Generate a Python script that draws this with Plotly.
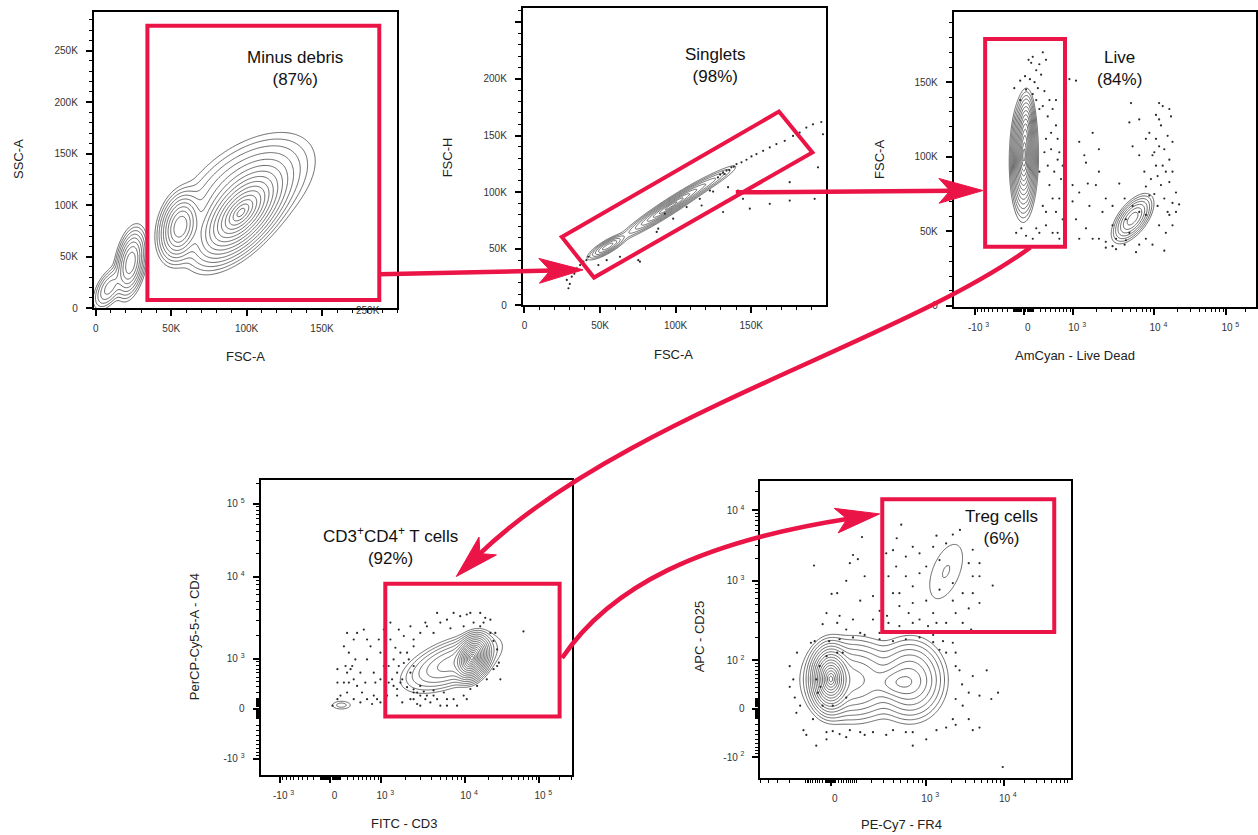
import numpy as np
import plotly.graph_objects as go

W, H = 1258, 835
RED = "#EB1446"
INK = "#2a2a2a"
FONT = "Liberation Sans, Arial, Helvetica, sans-serif"
EXP = 0.72  # exponent of the biexponential-like display transform


def biex(v, c):
    v = np.asarray(v, dtype=float)
    return np.sign(v) * np.abs(np.arcsinh(v / c)) ** EXP


# ======================= DATA =======================
# Panel 1  FSC-A (K) vs SSC-A (K); density populations
p1_cx = [96, 56, 100, 23, 9]
p1_cy = [92, 79, 115, 44, 20]
p1_sx = [11.5, 5.5, 18, 4, 4.5]
p1_sy = [18, 13, 22, 13, 9]
p1_rho = [0.6, 0.25, 0.5, 0.35, 0.55]
p1_amp = [1.0, 0.42, 0.10, 0.3, 0.07]
p1_gate = [34.2, 8.0, 188.0, 274.1]          # x0, y0, x1, y1 (K)

# Panel 2  FSC-A (K) vs FSC-H (K)
p2_cx = [55, 97, 122]
p2_cy = [52, 88, 108]
p2_sx = [4.74, 11.4, 7.75]
p2_sy = [4.1, 9.96, 6.57]
p2_rho = [0.83, 0.964, 0.936]
p2_amp = [0.5, 1.0, 0.1]
p2_gate_x = [24.7, 168.4, 190.5, 46.0]
p2_gate_y = [60.5, 171.1, 135.1, 24.6]
p2_dots = [(28.0, 22.5), (29.1, 15.2), (31.3, 25.4), (34.6, 32.7), (36.8, 35.6), (39.0, 38.6),
           (42.3, 43.0), (48.9, 35.6), (54.4, 40.0), (63.2, 43.0), (76.4, 38.6), (75.3, 40.0),
           (88.5, 67.8), (87.5, 64.9), (92.9, 81.0), (98.4, 76.6), (107.3, 86.8), (116.0, 94.1),
           (117.2, 88.2), (122.7, 101.4), (124.8, 100.5), (131.4, 117.5), (133.7, 119.0),
           (136.9, 121.9), (140.3, 124.8), (143.6, 126.3), (146.9, 128.6), (150.2, 131.5),
           (153.5, 133.6), (157.9, 136.5), (162.3, 139.5), (166.7, 142.4), (172.2, 145.3),
           (177.7, 149.6), (182.1, 152.6), (186.5, 157.0), (190.9, 159.9), (196.4, 161.9),
           (197.5, 151.1), (194.2, 121.9), (192.0, 94.1), (134.7, 104.4), (141.3, 101.4),
           (144.6, 94.1), (149.1, 85.4), (162.3, 89.7), (175.5, 108.8), (175.5, 92.6),
           (131.4, 82.5), (129.5, 115.5), (132.5, 116.0), (135.5, 119.5), (138.5, 122.5),
           (128.0, 113.0), (33.0, 28.0), (41.0, 40.0), (30.0, 19.0)]

# Panel 3  AmCyan (real units) vs FSC-A (K); x spreads in display units
p3_cx = [0, 10, 5360]
p3_cy = [99, 118, 58.5]
p3_sx = [0.07, 0.05, 0.12]
p3_sy = [13, 9, 6]
p3_rho = [0.05, 0.1, 0.6]
p3_amp = [1.0, 0.35, 0.22]
p3_gate = [-687, 39.6, 753, 178.9]
p3_dots = [(35, 165), (65, 163), (85, 167), (135, 158), (185, 162), (50, 152), (5, 154), (110, 150),
           (160, 146), (245, 170), (-95, 146), (-25, 151), (215, 155), (275, 144), (12, 145),
           (85, 142), (305, 165), (245, 134), (340, 127), (443, 132), (520, 121), (305, 112),
           (410, 105), (560, 98), (480, 90), (375, 81), (602, 72), (520, 63), (305, 54), (443, 49),
           (602, 45), (185, 49), (135, 52), (12, 47), (-15, 52), (245, 67), (340, 94), (275, 103),
           (560, 112), (185, 90), (645, 85), (690, 58), (880, 152), (1095, 151), (1210, 110),
           (1480, 96), (1790, 116), (2130, 105), (980, 81), (1210, 76), (1635, 67), (1480, 52),
           (1790, 45), (1210, 45), (2130, 90), (2570, 72), (2350, 63), (1960, 81), (1095, 58),
           (980, 70), (3090, 54), (2570, 43), (1560, 82), (1410, 101), (5130, 136), (11500, 136),
           (12800, 134), (15650, 132), (16450, 127), (8630, 116), (10480, 112), (11500, 107),
           (9460, 101), (12800, 94), (11000, 87), (14070, 90), (15650, 83), (9040, 85),
           (6460, 101), (5360, 107), (4900, 123), (7810, 80), (9970, 75), (13430, 72), (17240, 69),
           (21160, 68), (15650, 61), (11500, 54), (14070, 49), (9460, 41), (6460, 41), (4300, 41),
           (3090, 40), (2570, 39), (3400, 45), (4450, 44), (13430, 37), (14860, 63), (19200, 76),
           (8630, 74), (4300, 72), (3710, 82), (3090, 67), (6460, 125), (17240, 110),
           (14860, 114), (12150, 121), (10480, 128), (7470, 90), (6460, 63), (4900, 49),
           (7810, 45), (17240, 54), (375, 138), (520, 138), (410, 116), (602, 103), (443, 72),
           (305, 63), (690, 94), (560, 49), (185, 132), (135, 138), (-25, 138), (-70, 49),
           (85, 45), (11500, 125), (13430, 105), (9970, 103), (15650, 98), (10480, 94),
           (12150, 81), (11000, 67), (17240, 90), (19200, 63), (7810, 61), (5360, 67), (4450, 58),
           (5900, 36), (3400, 38), (2130, 45), (7810, 112)]

# Panel 4  FITC-CD3 vs PerCP-Cy5-5-CD4 (real units); spreads in display units
p4_cx = [12200, 6800, 109]
p4_cy = [1030, 860, 24]
p4_sx = [0.10, 0.30, 0.094]
p4_sy = [0.13, 0.18, 0.042]
p4_rho = [0.25, 0.55, 0.0]
p4_amp = [1.0, 0.08, 0.0075]
p4_gate = [1130, -68, 200000, 8110]
p4_dots = [(195, 2120), (525, 2320), (313, 1770), (225, 1210), (170, 783), (255, 695), (313, 451),
           (145, 380), (380, 313), (195, 194), (96, 145), (485, 194), (602, 93), (449, 52),
           (285, 783), (345, 980), (602, 980), (776, 607), (971, 451), (870, 93), (730, 35),
           (58, 93), (10, 19), (971, 1210), (1080, 783), (920, 1770), (1080, 2320), (1315, 2800),
           (1135, 1460), (1250, 380), (820, 380), (449, 607), (58, 695), (145, 1460),
           (1665, 2320), (1910, 1950), (1741, 1210), (1440, 980), (1590, 607), (1380, 451),
           (1741, 380), (2085, 290), (1590, 145), (1830, 52), (2480, 93), (2956, 145), (3860, 52),
           (5040, 19), (6030, 93), (7970, 19), (9590, 145), (11620, 255), (14130, 313),
           (18850, 451), (23100, 695), (25800, 1335), (24400, 2120), (21000, 3030), (15500, 3630),
           (11620, 3630), (8700, 3330), (6030, 3030), (4620, 3630), (3380, 2800), (2956, 2120),
           (2480, 1460), (2180, 980), (2280, 607), (2480, 783), (2956, 313), (3520, 145),
           (4200, 145), (59300, 2210), (6630, 2400), (4200, 2120), (12770, 2800), (18000, 3180),
           (27200, 880), (2720, 194), (3240, 210), (4200, 230), (5540, 194), (2480, 250),
           (1315, 1770), (1515, 1400), (1665, 783), (1910, 870), (1250, 783), (1440, 313),
           (1830, 451), (2280, 93), (2720, 35), (3380, 93), (4620, 93), (7240, 93), (10480, 93),
           (2480, 194), (1590, 255), (1192, 145), (2956, 19), (6030, 19), (9590, 2530),
           (15500, 2530), (21000, 2120), (23100, 1700), (25800, 783), (28500, 451), (7240, 3630),
           (10480, 3480), (5040, 2800), (3520, 2530), (17100, 2800), (2085, 1210), (2480, 1770),
           (2280, 2530), (602, 1770), (690, 1460), (380, 2120), (225, 380), (313, 93), (560, 380),
           (776, 145), (971, 52), (58, 380), (195, 607)]

# Panel 5  PE-Cy7-FR4 vs APC-CD25 (real units); spreads in display units
p5_cx = [0, 82, 642, 451, 1736]
p5_cy = [48, 46, 46, 39.5, 1327]
p5_sx = [0.12, 0.30, 0.22, 0.20, 0.21]
p5_sy = [0.20, 0.26, 0.26, 0.12, 0.355]
p5_rho = [0.0, 0.0, 0.0, 0.0, 0.5]
p5_amp = [1.0, 0.12, 0.12, 0.08, 0.0058]
p5_gate = [289, 233, 56100, 14870]
p5_dots = [(505, 6100), (445, 3850), (693, 2900), (1325, 4200), (2100, 4350), (2580, 5100),
           (3780, 2640), (4640, 1720), (7000, 870), (3780, 1150), (3350, 1720), (1210, 2900),
           (833, 2350), (574, 2120), (438, 1550), (350, 1150), (400, 695), (480, 480), (620, 395),
           (833, 330), (1210, 395), (1736, 300), (2280, 395), (3350, 450), (2100, 560),
           (1442, 770), (1000, 560), (693, 850), (833, 1260), (574, 1150), (335, 365), (350, 300),
           (480, 275), (693, 300), (1050, 275), (1325, 300), (2800, 300), (3600, 250), (4640, 524),
           (135, 4000), (83, 2230), (67, 1720), (110, 1950), (-55, 1600), (15, 695), (50, 1000),
           (152, 1150), (211, 640), (124, 560), (1, 680), (265, 420), (-8, 395), (23, 365),
           (83, 330), (15, 300), (-20, 290), (211, 330), (265, 227), (124, 227), (50, 250),
           (-52, 180), (-70, 172), (-150, 128), (-201, 82), (-201, 31), (-165, 12), (-154, -3),
           (-110, -30), (-94, -40), (-45, -66), (-8, -34), (3, -32), (23, -38), (67, -30),
           (124, -34), (211, -34), (327, -40), (574, -34), (693, -66), (1000, -50), (1325, -30),
           (1736, -25), (2280, -20), (3350, -11), (3780, -30), (4640, -25), (2280, 10), (3350, 20),
           (4640, 15), (6700, 10), (3780, 55), (2550, 70), (2280, 128), (2100, 172), (1442, 140),
           (1590, 180), (1210, 175), (9660, -137), (-31, 82), (-45, 47), (-38, 20), (-20, 2),
           (15, 128), (35, 128), (50, 12), (3, 2), (-8, 115), (-28, 31), (-2, 180), (23, 190),
           (83, 200), (152, 215), (265, 190), (400, 180), (574, 190), (833, 200), (1210, 215),
           (1736, 128), (2280, 82), (2750, 36), (2800, 2), (2100, -11), (693, -34), (400, -30),
           (152, -40), (50, -45), (-8, -50), (-60, -11), (-130, 2), (-175, 47), (5800, 70),
           (8300, 20), (1736, 3250), (1442, 1900), (2100, 936), (2800, 695), (693, 524),
           (480, 695), (400, 2600), (3780, 695), (4640, 1150), (1000, 1550), (327, 2350)]

# Tick values / labels
lin_ticks = [0, 50, 100, 150, 200, 250]
lin_labels = ["0", "50K", "100K", "150K", "200K", "250K"]
log_ticks_3 = [-1000, 0, 1000, 10000, 100000]
log_labels_3 = ["-10 <sup>3</sup>", "0", "10 <sup>3</sup>", "10 <sup>4</sup>", "10 <sup>5</sup>"]
log_ticks_5y = [-100, 0, 100, 1000, 10000]
log_labels_5y = ["-10 <sup>2</sup>", "0", "10 <sup>2</sup>", "10 <sup>3</sup>", "10 <sup>4</sup>"]
log_ticks_5x = [0, 1000, 10000]
log_labels_5x = ["0", "10 <sup>3</sup>", "10 <sup>4</sup>"]

# ======================= LAYOUT HELPERS =======================
FRAMES = {1: (93, 12, 397, 310), 2: (522.7, 8.3, 826, 307.3), 3: (954.3, 11.7, 1256.7, 309),
          4: (260, 482.7, 571.7, 780), 5: (760.7, 484, 1071.7, 782.3)}


def px(x):
    return x / W


def py(y):
    return 1 - y / H


def dom(i):
    L, T, R, B = FRAMES[i]
    return [px(L), px(R)], [py(B), py(T)]


TICKFONT = dict(size=10, color="#333", family=FONT)


def base_axis(domain, rng, anchor):
    return dict(domain=domain, range=rng, anchor=anchor, ticks="outside", ticklen=6,
                tickwidth=1.5, tickcolor="black", showline=True, linewidth=2,
                linecolor="black", mirror=True, showgrid=False, zeroline=False,
                tickfont=TICKFONT, fixedrange=True, tickmode="array")


def lin_axis(domain, rng, anchor, tv, tt, isy):
    a = base_axis(domain, rng, anchor)
    a.update(tickvals=tv, ticktext=tt,
             minor=dict(tickmode="linear", tick0=0, dtick=10, ticks="outside", ticklen=3,
                        tickwidth=1, tickcolor="black"),
             ticklabelstandoff=6 if isy else 4)
    return a


def log_axis(domain, rng, anchor, c, majors, labels, kmin, kmax, isy):
    minors = []
    for k in range(kmin, kmax + 1):
        for m in range(1, 10):
            for s in (-1, 1):
                val = s * m * 10 ** k
                if val not in majors:
                    minors.append(val)
    mv = [float(v) for v in biex(minors, c) if rng[0] <= v <= rng[1]]
    a = base_axis(domain, rng, anchor)
    a.update(tickvals=[float(v) for v in biex(majors, c)], ticktext=labels,
             minor=dict(tickmode="array", tickvals=mv, ticks="outside", ticklen=3,
                        tickwidth=1, tickcolor="black"),
             ticklabelstandoff=6 if isy else 4)
    if not isy:
        a["ticklabelshift"] = 4
    return a


def grid(xw, yw, cx, cy, sx, sy, rho, amp, n=240):
    xs = np.linspace(xw[0], xw[1], n)
    ys = np.linspace(yw[0], yw[1], n)
    X, Y = np.meshgrid(xs, ys)
    D = np.zeros_like(X)
    for a, b, s, t, r, w in zip(cx, cy, sx, sy, rho, amp):
        u = (X - a) / s
        v = (Y - b) / t
        D += w * np.exp(-0.5 * (u * u - 2 * r * u * v + v * v) / (1 - r * r))
    D = D / D.max()
    Z = np.sqrt(-np.log10(np.clip(D, 1e-9, 1.0)))
    return np.round(xs, 4), np.round(ys, 4), np.round(Z, 3)


def contour(g, zmax, nlev, ax):
    xs, ys, Z = g
    step = zmax / nlev
    return go.Contour(x=xs, y=ys, z=Z, xaxis="x" + ax, yaxis="y" + ax, autocontour=False,
                      contours=dict(start=step, end=zmax + 1e-6, size=step, coloring="lines"),
                      colorscale=[[0, INK], [1, INK]], showscale=False,
                      line=dict(width=0.7, smoothing=1), hoverinfo="skip")


def dots(x, y, ax):
    return go.Scatter(x=x, y=y, mode="markers", xaxis="x" + ax, yaxis="y" + ax,
                      marker=dict(size=2.2, color="#2a2a2a"), hoverinfo="skip")


fig = go.Figure()

# ---------------- Panel 1 ----------------
fig.add_trace(contour(grid([-1.3, 178], [0, 215], p1_cx, p1_cy, p1_sx, p1_sy, p1_rho, p1_amp, 260),
                      1.55, 15, ""))

# ---------------- Panel 2 ----------------
fig.add_trace(contour(grid([20, 165], [12, 150], p2_cx, p2_cy, p2_sx, p2_sy, p2_rho, p2_amp, 300),
                      1.45, 9, "2"))
fig.add_trace(dots([d[0] for d in p2_dots], [d[1] for d in p2_dots], "2"))

# ---------------- Panel 3 ----------------
C3 = 1300
fig.add_trace(contour(grid([-0.7, 2.9], [15, 185], biex(p3_cx, C3), p3_cy, p3_sx, p3_sy, p3_rho,
                           p3_amp, 260), 1.55, 14, "3"))
fig.add_trace(dots(biex([d[0] for d in p3_dots], C3), [d[1] for d in p3_dots], "3"))

# ---------------- Panel 4 ----------------
C4 = 1300
fig.add_trace(contour(grid([-0.6, 3.4], [-0.7, 2.3], biex(p4_cx, C4), biex(p4_cy, C4), p4_sx, p4_sy,
                           p4_rho, p4_amp, 260), 1.61, 16, "4"))
fig.add_trace(dots(biex([d[0] for d in p4_dots], C4), biex([d[1] for d in p4_dots], C4), "4"))

# ---------------- Panel 5 ----------------
C5X, C5Y = 350, 130
fig.add_trace(contour(grid([-1.1, 3.2], [-1.1, 3.4], biex(p5_cx, C5X), biex(p5_cy, C5Y), p5_sx, p5_sy,
                           p5_rho, p5_amp, 260), 1.61, 16, "5"))
fig.add_trace(dots(biex([d[0] for d in p5_dots], C5X), biex([d[1] for d in p5_dots], C5Y), "5"))

# ---------------- Axes ----------------
R1 = ([-1.32, 200], [0, 287.6])
R2 = ([-1.06, 199.3], [0, 262.3])
R3 = ([-1.109, 3.668], [-0.87, 197.3])
R4 = ([-1.072, 3.701], [-1.040, 3.576])
R5 = ([-1.109, 3.797], [-1.112, 3.676])

d1, d2, d3, d4, d5 = dom(1), dom(2), dom(3), dom(4), dom(5)
layout_axes = dict(
    xaxis=lin_axis(d1[0], R1[0], "y", lin_ticks[:4], lin_labels[:4], False),
    yaxis=lin_axis(d1[1], R1[1], "x", lin_ticks, lin_labels, True),
    xaxis2=lin_axis(d2[0], R2[0], "y2", lin_ticks[:4], lin_labels[:4], False),
    yaxis2=lin_axis(d2[1], R2[1], "x2", lin_ticks, lin_labels[:5] + [""], True),
    xaxis3=log_axis(d3[0], R3[0], "y3", C3, log_ticks_3, log_labels_3, 1, 5, False),
    yaxis3=lin_axis(d3[1], R3[1], "x3", lin_ticks[:4], lin_labels[:4], True),
    xaxis4=log_axis(d4[0], R4[0], "y4", C4, log_ticks_3, log_labels_3, 1, 5, False),
    yaxis4=log_axis(d4[1], R4[1], "x4", C4, log_ticks_3, log_labels_3, 1, 5, True),
    xaxis5=log_axis(d5[0], R5[0], "y5", C5X, log_ticks_5x, log_labels_5x, 0, 4, False),
    yaxis5=log_axis(d5[1], R5[1], "x5", C5Y, log_ticks_5y, log_labels_5y, 0, 4, True),
)

# ---------------- Gates ----------------
shapes = []
GL = dict(color=RED, width=4)
shapes.append(dict(type="rect", xref="x", yref="y", x0=p1_gate[0], y0=p1_gate[1], x1=p1_gate[2],
                   y1=p1_gate[3], line=GL, layer="above"))
path2 = "M " + " L ".join(f"{x},{y}" for x, y in zip(p2_gate_x, p2_gate_y)) + " Z"
shapes.append(dict(type="path", xref="x2", yref="y2", path=path2, line=GL, layer="above"))
shapes.append(dict(type="rect", xref="x3", yref="y3", x0=float(biex(p3_gate[0], C3)), y0=p3_gate[1],
                   x1=float(biex(p3_gate[2], C3)), y1=p3_gate[3], line=GL, layer="above"))
shapes.append(dict(type="rect", xref="x4", yref="y4", x0=float(biex(p4_gate[0], C4)),
                   y0=float(biex(p4_gate[1], C4)), x1=float(biex(p4_gate[2], C4)),
                   y1=float(biex(p4_gate[3], C4)), line=GL, layer="above"))
shapes.append(dict(type="rect", xref="x5", yref="y5", x0=float(biex(p5_gate[0], C5X)),
                   y0=float(biex(p5_gate[1], C5Y)), x1=float(biex(p5_gate[2], C5X)),
                   y1=float(biex(p5_gate[3], C5Y)), line=GL, layer="above"))


# ---------------- Arrows (pixel geometry) ----------------
def P(pt):
    return f"{px(pt[0]):.5f},{py(pt[1]):.5f}"


HEAD_L, HEAD_W, NOTCH = 44, 12.5, 11


def arrow(points):
    tip = np.array(points[-1], float)
    prev = np.array(points[-2], float)
    u = tip - prev
    u = u / np.hypot(*u)
    n = np.array([-u[1], u[0]])
    end = tip - (HEAD_L - NOTCH - 3) * u
    if len(points) == 2:
        shaft = f"M {P(points[0])} L {P(end)}"
    else:
        shaft = f"M {P(points[0])} C {P(points[1])} {P(points[2])} {P(end)}"
    shapes.append(dict(type="path", xref="paper", yref="paper", path=shaft,
                       line=dict(color=RED, width=4.5), layer="above"))
    back = tip - HEAD_L * u
    b1, b2 = back + HEAD_W * n, back - HEAD_W * n
    nt = tip - (HEAD_L - NOTCH) * u
    head = f"M {P(tip)} L {P(b1)} L {P(nt)} L {P(b2)} Z"
    shapes.append(dict(type="path", xref="paper", yref="paper", path=head,
                       line=dict(color=RED, width=1), fillcolor=RED, layer="above"))


arrow([(379, 276), (583, 271.5)])
arrow([(736, 193.5), (983.5, 191.7)])
arrow([(1031, 249), (900, 345), (620, 420), (456, 580)])
arrow([(562, 662), (610, 590), (700, 545), (880, 517)])

# ---------------- Text ----------------
ann = []


def text(x, y, s, size, angle=0, color="#111"):
    ann.append(dict(x=px(x), y=py(y), xref="paper", yref="paper", text=s, showarrow=False,
                    font=dict(size=size, color=color, family=FONT), textangle=angle,
                    xanchor="center", yanchor="middle", align="center"))


text(294, 68.5, "Minus debris<br>(87%)", 17)
text(715, 65.5, "Singlets<br>(98%)", 17)
text(1120, 68.5, "Live<br>(84%)", 17)
text(390, 549, "CD3<sup>+</sup>CD4<sup>+</sup> T cells<br>(92%)", 17)
text(1001.7, 530.5, "Treg cells<br>(6%)", 17)

text(245, 359, "FSC-A", 13, color="#222")
text(17, 160, "SSC-A", 13, -90, "#222")
text(673.3, 356.7, "FSC-A", 13, color="#222")
text(446.7, 158.3, "FSC-H", 13, -90, "#222")
text(1075.7, 357.3, "AmCyan - Live Dead", 13, color="#222")
text(879.3, 160, "FSC-A", 13, -90, "#222")
text(403.3, 828.3, "FITC - CD3", 13, color="#222")
text(193.3, 640, "PerCP-Cy5-5-A - CD4", 13, -90, "#222")
text(901.7, 829.3, "PE-Cy7 - FR4", 13, color="#222")
text(699.3, 640, "APC - CD25", 13, -90, "#222")
text(368, 312, "250K", 10, color="#333")

fig.update_layout(width=W, height=H, autosize=False, margin=dict(l=0, r=0, t=0, b=0),
                  paper_bgcolor="white", plot_bgcolor="white", showlegend=False,
                  font=dict(family=FONT), shapes=shapes, annotations=ann, **layout_axes)

fig.write_html("out.html")
